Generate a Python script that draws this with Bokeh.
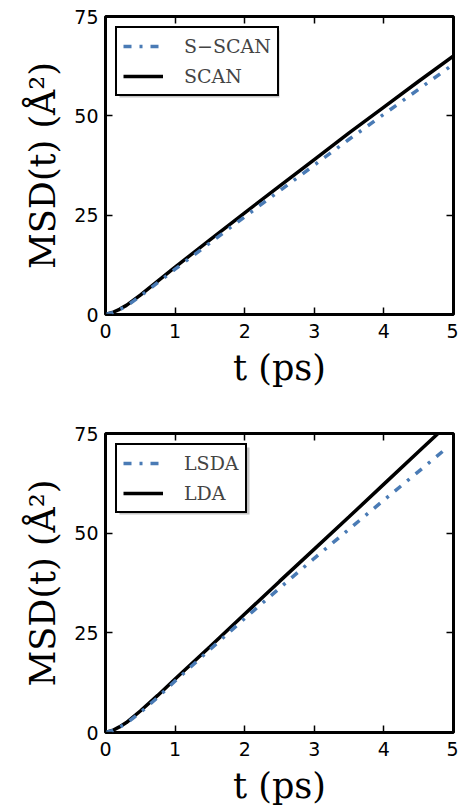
from bokeh.plotting import figure
from bokeh.models import (Legend, LegendItem, LinearAxis, BoxAnnotation,
                          Range1d, FixedTicker)
from bokeh.layouts import column
from bokeh.embed import file_html
from bokeh.resources import INLINE

# ---- data ----
t_top = [0, 0.1, 0.2, 0.3, 0.5, 0.75, 1, 1.5, 2, 2.5, 3, 3.5, 4, 4.5, 5]
scan = [0, 0.5, 1.3, 2.3, 4.9, 8.4, 11.9, 18.8, 25.6, 32.3, 39.0, 45.7, 52.2, 58.7, 65.1]
s_scan = [0, 0.45, 1.2, 2.1, 4.6, 8.0, 11.4, 18.0, 24.6, 31.1, 37.6, 44.1, 50.4, 56.7, 63.0]

t_lda = [0, 0.1, 0.2, 0.3, 0.5, 0.75, 1, 1.5, 2, 2.5, 3, 3.5, 4, 4.5, 5]
lda = [0, 0.5, 1.4, 2.5, 5.4, 9.3, 13.4, 21.5, 29.7, 37.9, 46.0, 54.1, 62.3, 70.5, 78.6]
t_lsda = [0, 0.1, 0.2, 0.3, 0.5, 0.75, 1, 1.5, 2, 2.5, 3, 3.5, 4, 4.5, 4.85]
lsda = [0, 0.45, 1.3, 2.3, 5.0, 8.8, 12.9, 20.8, 28.6, 36.2, 43.7, 51.0, 58.3, 65.5, 70.6]

x_ticks = [0, 1, 2, 3, 4, 5]
y_ticks = [0, 25, 50, 75]
x_label = "t (ps)"
y_label = "MSD(t) (Å²)"

BLUE = "#4a7bb5"
SERIF = "DejaVu Serif"
SANS = "DejaVu Sans"
FRAME_W = 348


def tick_style(ax, ticks):
    ax.ticker = FixedTicker(ticks=ticks)
    ax.major_tick_in = 7
    ax.major_tick_out = 0
    ax.minor_tick_line_color = None
    ax.major_tick_line_width = 1.5
    ax.major_tick_line_color = "black"
    ax.axis_line_color = None


def hide_labels(ax):
    ax.major_label_text_font_size = "0px"
    ax.major_label_standoff = 0


def show_labels(ax):
    ax.major_label_text_font = SANS
    ax.major_label_text_font_size = "19px"
    ax.major_label_text_color = "black"


def panel(ta, ya, name_a, tb, yb, name_b, height, top, bottom, legend_w):
    frame_h = height - top - bottom
    p = figure(width=458, height=height, x_range=Range1d(0, 5), y_range=Range1d(0, 75),
               output_backend="svg", toolbar_location=None,
               min_border_left=105, min_border_right=5,
               min_border_top=top, min_border_bottom=bottom)
    p.grid.visible = False
    p.outline_line_color = "black"
    p.outline_line_width = 3
    p.background_fill_color = "white"
    p.border_fill_color = "white"

    right_ax = LinearAxis()
    top_ax = LinearAxis()
    p.add_layout(right_ax, "right")
    p.add_layout(top_ax, "above")
    bottom_ax = p.below[0]
    left_ax = p.left[0]

    tick_style(bottom_ax, x_ticks)
    tick_style(top_ax, x_ticks)
    tick_style(left_ax, y_ticks)
    tick_style(right_ax, y_ticks)
    hide_labels(top_ax)
    hide_labels(right_ax)
    show_labels(bottom_ax)
    show_labels(left_ax)

    bottom_ax.major_label_standoff = 9
    left_ax.major_label_standoff = 7
    for ax, lab in ((bottom_ax, x_label), (left_ax, y_label)):
        ax.axis_label = lab
        ax.axis_label_text_font = SERIF
        ax.axis_label_text_font_size = "35px"
        ax.axis_label_text_font_style = "normal"
        ax.axis_label_text_color = "black"
    bottom_ax.axis_label_standoff = 7
    left_ax.axis_label_standoff = 8

    r_b = p.line(tb, yb, line_color="black", line_width=3.5)
    r_a = p.line(ta, ya, line_color=BLUE, line_width=3.5, line_dash="8 8 3 8")

    # legend drop shadow (offset grey box behind the legend)
    xpx = 5 / float(FRAME_W)
    ypx = 75 / float(frame_h)
    shadow = BoxAnnotation(left=(10 + 4) * xpx, right=(10 + legend_w + 4) * xpx,
                           top=75 - (10 + 4) * ypx, bottom=75 - (10 + 67 + 4) * ypx,
                           fill_color="#c4c4c4", fill_alpha=1.0, line_color=None)
    p.add_layout(shadow)

    leg = Legend(items=[LegendItem(label=name_a, renderers=[r_a]),
                        LegendItem(label=name_b, renderers=[r_b])],
                 location="top_left", margin=10, padding=6, spacing=6,
                 glyph_width=40, glyph_height=24, label_height=24,
                 label_standoff=21,
                 label_text_font=SERIF, label_text_font_size="19px",
                 border_line_color="black", border_line_width=2, border_line_alpha=1.0,
                 background_fill_color="white", background_fill_alpha=1.0)
    p.add_layout(leg)
    return p


p1 = panel(t_top, s_scan, "S−SCAN", t_top, scan, "SCAN", 410, 16, 96, 160)
p2 = panel(t_lsda, lsda, "LSDA", t_lda, lda, "LDA", 398, 23, 76, 130)

page = column(p1, p2, spacing=0)
open("out.html", "w").write(file_html(page, INLINE))
